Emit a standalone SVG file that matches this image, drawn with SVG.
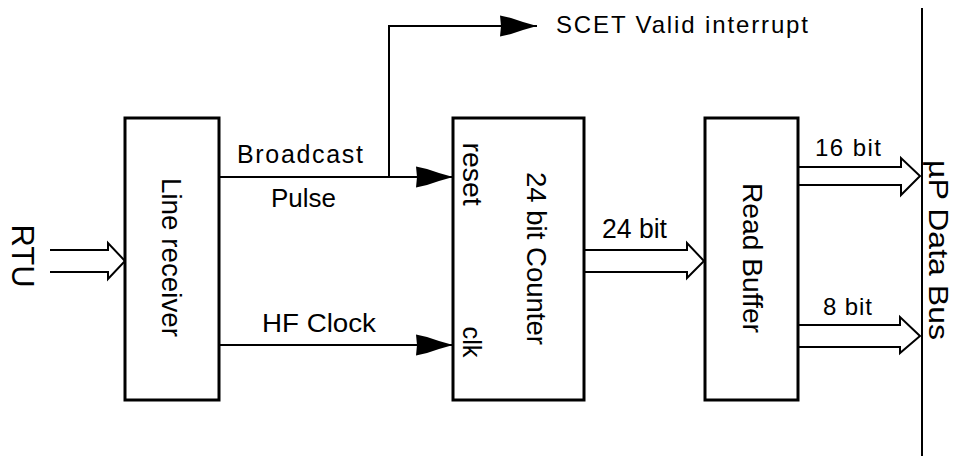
<svg xmlns="http://www.w3.org/2000/svg" width="958" height="456" viewBox="0 0 958 456">
<style>
.box{fill:#fff;stroke:#000;stroke-width:3}
.ln{fill:none;stroke:#000;stroke-width:2}
.bus{fill:#fff;stroke:#000;stroke-width:2;stroke-linejoin:miter}
text{font-family:"Liberation Sans",Arial,sans-serif;fill:#000}
</style>
<defs>
<marker id="ah" viewBox="-37 -11 38 22" refX="0" refY="0" markerWidth="38" markerHeight="22" markerUnits="userSpaceOnUse" orient="auto">
<path d="M0,0 L-14,-4 L-26,-8 L-37,-10.5 L-36,0 L-37,10.5 L-26,8 L-14,4 Z" fill="#000"/>
</marker>
</defs>
<rect width="958" height="456" fill="#fff"/>
<g id="connectors">
<path class="ln" d="M219,177 L453,177" marker-end="url(#ah)"/>
<path class="ln" d="M389,177 L389,26 L537,26" marker-end="url(#ah)"/>
<path class="ln" d="M219,345 L453,345" marker-end="url(#ah)"/>
<path class="bus" d="M50,250 L108,250 L108,243 L125,261 L108,279 L108,272 L50,272"/>
<path class="bus" d="M584,250 L687,250 L687,243 L704,261 L687,278 L687,272 L584,272"/>
<path class="bus" d="M798,167 L901,167 L901,158 L920,176 L901,195 L901,185 L798,185"/>
<path class="bus" d="M798,325 L900,325 L900,317 L920,336 L900,353 L900,347 L798,347"/>
<line x1="922" y1="8" x2="922" y2="456" stroke="#000" stroke-width="2"/>
</g>
<g id="rtu">
<text transform="translate(12,256) rotate(90)" font-size="31" text-anchor="middle" textLength="63" lengthAdjust="spacingAndGlyphs">RTU</text>
</g>
<g id="line-receiver">
<rect class="box" x="125" y="118" width="94" height="282"/>
<text transform="translate(162,257.5) rotate(90)" font-size="28" text-anchor="middle" textLength="159" lengthAdjust="spacingAndGlyphs">Line receiver</text>
</g>
<g id="counter">
<rect class="box" x="453" y="118" width="131" height="282"/>
<text transform="translate(463,174) rotate(90)" font-size="27" text-anchor="middle" textLength="63" lengthAdjust="spacingAndGlyphs">reset</text>
<text transform="translate(463,342) rotate(90)" font-size="25" text-anchor="middle" textLength="31" lengthAdjust="spacingAndGlyphs">clk</text>
<text transform="translate(527,258.5) rotate(90)" font-size="27" text-anchor="middle" textLength="173" lengthAdjust="spacingAndGlyphs">24 bit Counter</text>
</g>
<g id="read-buffer">
<rect class="box" x="705" y="118" width="93" height="282"/>
<text transform="translate(743,258) rotate(90)" font-size="27" text-anchor="middle" textLength="150" lengthAdjust="spacingAndGlyphs">Read Buffer</text>
</g>
<g id="data-bus">
<text transform="translate(929,250) rotate(90)" font-size="27" text-anchor="middle" textLength="180" lengthAdjust="spacingAndGlyphs">µP Data Bus</text>
</g>
<g id="labels">
<text x="237" y="163" font-size="25" textLength="126" lengthAdjust="spacing">Broadcast</text>
<text x="271" y="207" font-size="25" textLength="65" lengthAdjust="spacingAndGlyphs">Pulse</text>
<text x="262" y="332" font-size="25" textLength="114" lengthAdjust="spacingAndGlyphs">HF Clock</text>
<text x="556" y="33" font-size="24" textLength="252" lengthAdjust="spacing">SCET Valid interrupt</text>
<text x="602" y="238" font-size="27" textLength="65" lengthAdjust="spacingAndGlyphs">24 bit</text>
<text x="815" y="156" font-size="24" textLength="66" lengthAdjust="spacing">16 bit</text>
<text x="823" y="315" font-size="24" textLength="49" lengthAdjust="spacing">8 bit</text>
</g>
</svg>
